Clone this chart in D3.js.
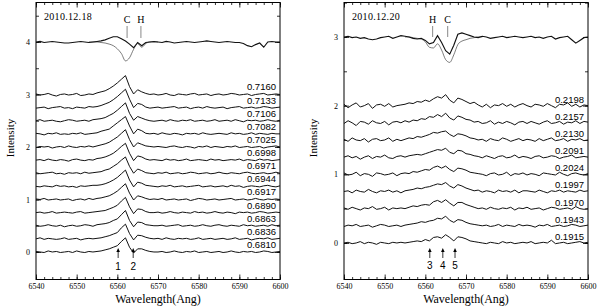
<!DOCTYPE html>
<html lang="en">
<head>
<meta charset="UTF-8">
<title>H-alpha profiles 2010.12.18 / 2010.12.20</title>
<script src="https://cdn.jsdelivr.net/npm/d3@7/dist/d3.min.js"></script>
<style>
  body { margin: 0; background: #fff; }
  svg { display: block; }
  svg text { fill: #000; }
</style>
</head>
<body>
<script>

// wavelength grid of the spectra (1 Ang steps)
const wave = d3.range(6540, 6601);

// ---------- left panel: 2010.12.18 ----------
const phasesL = ["0.7160", "0.7133", "0.7106", "0.7082", "0.7025", "0.6998", "0.6971",
                 "0.6944", "0.6917", "0.6890", "0.6863", "0.6836", "0.6810"];
const offsetsL = [3, 2.75, 2.5, 2.25, 2, 1.75, 1.5, 1.25, 1, 0.75, 0.5, 0.25, 0];

// flux - continuum, in units of 0.01
const specL = [
  [1,-1,0,2,-1,-3,0,1,-1,0,2,-2,-1,1,0, 3,5,7,11,16,22,29,36,15,1,9,5,2,0,1, -1,0,2,-1,-2,1,0,-1,1,2,-1,0,1,-2,0, 1,-1,0,2,1,-1,0,1,-2,0,1,2,-1,0,1,0],
  [-1,0,1,-2,0,1,2,-1,0,-2,1,0,-1,2,1, 2,4,7,10,15,21,28,35,16,0,8,6,1,-1,0, 1,-1,0,1,2,-1,0,1,-2,0,1,-1,2,0,-1, 0,1,-2,0,1,2,-1,0,1,-1,0,2,1,-1,0,1],
  [0,2,-1,0,1,-1,-2,0,2,1,-1,0,1,-1,2, 3,4,6,10,14,20,27,34,14,1,8,5,2,0,-1, 0,1,-1,2,0,-1,1,0,2,-1,0,1,-1,0,2, -1,0,1,-1,2,0,-2,1,0,1,-1,0,2,0,-1,1],
  [1,0,-2,1,0,2,-1,0,-1,1,0,2,-1,0,1, 2,5,7,9,15,21,27,33,15,0,9,6,1,0,1, -1,2,0,-1,1,0,-2,1,0,1,-1,2,0,-1,0, 1,0,-1,2,0,1,-1,0,2,-1,1,0,-1,1,0,0],
  [-1,1,0,1,-2,0,1,-1,2,0,-1,1,0,2,0, 2,4,6,9,14,19,26,33,14,0,8,5,2,1,0, 1,0,-1,1,2,0,-1,1,0,-2,1,0,2,-1,1, 0,-1,1,0,2,-1,0,1,-1,0,1,-2,0,1,2,0],
  [0,1,-1,2,0,-1,1,0,-2,1,2,0,-1,1,0, 3,4,6,9,13,19,26,32,13,-1,8,6,2,0,1, 0,-1,2,0,1,-1,0,2,-1,0,1,0,-1,2,0, 1,-1,0,1,0,2,-1,1,0,-1,2,0,1,-1,0,1],
  [1,-1,0,1,2,-1,0,-2,1,0,1,-1,2,0,1, 2,3,6,8,13,18,25,31,13,0,8,5,1,0,-1, 1,0,2,-1,0,1,-1,0,2,1,-1,0,1,-1,0, 2,0,-1,1,0,-1,1,2,0,-1,0,1,-1,0,2,0],
  [0,-1,1,0,-1,2,0,1,-1,0,-2,1,0,1,2, 2,3,5,8,12,17,24,31,12,-1,8,6,2,1,0, -1,1,0,2,-1,0,1,-1,0,1,2,-1,0,1,-1, 0,1,-1,2,0,1,-2,0,1,0,-1,1,2,0,-1,1],
  [1,0,2,-1,0,1,-1,0,1,-2,0,1,-1,2,0, 2,3,5,7,11,16,23,30,12,-1,7,5,2,0,1, 0,2,-1,0,1,-1,0,1,-2,0,2,1,-1,0,1, -1,0,1,2,-1,0,1,-1,0,2,0,-1,1,0,1,0],
  [0,1,-1,0,2,-1,0,1,0,-1,1,2,-1,0,1, 2,3,4,7,10,14,22,29,11,-2,7,6,2,0,0, 1,-1,0,2,0,-1,1,0,-1,2,0,1,-1,0,2, 0,-1,1,0,-2,1,0,1,-1,0,2,1,-1,0,1,0],
  [1,-1,0,2,0,-1,1,-2,0,1,-1,0,2,1,-1, 2,3,4,6,10,13,21,29,10,-2,7,6,2,1,0, 0,1,-1,0,1,2,-1,0,1,-1,0,2,0,-1,1, 2,0,-1,1,0,-1,2,0,1,-1,0,1,-1,2,0,1],
  [0,2,-1,1,0,-1,0,2,-1,0,1,-2,0,1,0, 1,2,4,6,9,12,21,28,10,-2,7,6,3,1,0, 1,-1,2,0,-1,1,0,1,-1,0,2,-1,0,1,-1, 0,1,-1,0,2,-1,0,1,-2,0,1,0,2,-1,0,1],
  [1,0,-1,2,0,1,-1,0,1,-1,2,0,-1,1,0, 1,2,4,6,9,12,20,27,9,-2,6,6,3,1,0, 0,1,-1,0,2,0,-1,1,0,2,-1,0,1,-1,0, 1,-1,0,2,0,-1,1,0,1,-1,0,2,1,-1,0,1]
];

// top spectrum of the night (offset 4): observed and thin comparison profile
const topL = [0,1,-1,0,1,0,-1,-2,-2,-1,0,1,0,-1,0, 1,2,4,7,10,10,6,2,-4,-11,-1,-7,-1,0,1, 0,-1,1,0,-2,-1,0,1,0,-1,0,1,2,1,0, -1,0,1,0,-1,-1,-3,-7,-9,-5,-2,-10,0,1,0,0];
const coreWaveL = [6553, 6554, 6555, 6556, 6557, 6558, 6559, 6560, 6561, 6562, 6563, 6564, 6565, 6566, 6567, 6568, 6569, 6570];
const thinL = [0, 0, 0, -1, -2, -4, -7, -13, -22, -36, -30, -14, -3, -10, -3, 0, 0, 0];
const markWaveL = [6562.4, 6565.8];
const markNameL = ["C", "H"];
const arrowWaveL = [6560.2, 6563.9];
const arrowNameL = ["1", "2"];

// ---------- right panel: 2010.12.20 ----------
const phasesR = ["0.2198", "0.2157", "0.2130", "0.2091", "0.2024", "0.1997", "0.1970", "0.1943", "0.1915"];
const offsetsR = [2, 1.75, 1.5, 1.25, 1, 0.75, 0.5, 0.25, 0];

const specR = [
  [2,-3,1,4,-2,0,3,-4,1,2,-1,3,-2,0,1, 2,4,3,6,5,8,6,10,13,11,16,8,4,11,9, 6,3,5,1,-2,2,-3,1,0,3,-1,2,-2,1,3, 0,-2,2,1,-1,3,0,-3,2,1,4,-1,2,-2,1,0],
  [-1,3,0,-4,2,1,-2,3,0,-1,2,-3,1,2,0, 3,1,4,3,6,5,9,8,12,9,14,7,4,10,8, 5,4,1,2,-1,0,3,-2,1,-1,2,0,-3,1,2, -1,2,0,-2,1,3,-1,0,2,-2,1,0,3,-1,2,1],
  [1,-2,3,0,-1,2,-3,1,2,-1,0,3,-2,1,-1, 1,3,2,5,4,6,8,11,10,12,13,8,5,9,8, 6,3,2,0,1,-2,2,0,-1,3,1,-2,0,2,-1, 1,0,-2,2,-1,1,3,-1,0,2,-2,1,0,2,-1,0],
  [0,2,-1,1,-3,0,2,-2,1,0,3,-1,-2,1,2, 0,2,3,4,3,5,7,9,11,10,13,7,5,10,9, 5,4,2,1,-1,2,0,-2,1,2,-1,0,3,-1,1, 0,-2,1,2,-1,0,2,1,-2,0,1,3,-1,0,1,0],
  [2,-1,0,3,-2,1,0,-3,2,1,-1,0,2,-2,1, 2,1,4,3,5,7,6,10,12,9,12,7,4,9,8, 6,3,2,1,0,-2,1,2,-1,0,3,-2,1,0,2, -1,1,0,-2,2,1,0,-1,3,0,-2,1,2,0,-1,1],
  [0,1,-2,2,0,-1,3,0,-2,1,0,2,-1,1,-2, 1,2,3,5,4,6,7,9,11,10,13,8,5,10,8, 5,3,1,2,-1,1,0,-2,2,0,1,-1,2,-2,1, 1,0,-1,2,0,-2,1,0,2,-1,1,0,-1,2,0,1],
  [1,-1,2,0,-2,1,0,3,-1,0,2,-2,1,0,1, 0,2,4,3,5,6,5,10,12,9,13,8,4,9,9, 6,4,2,0,1,-1,2,0,-1,1,0,2,-2,1,0, 2,-1,0,1,-2,0,2,1,-1,0,1,-1,3,0,-1,0],
  [-1,1,0,2,-1,0,1,-2,0,2,1,-1,0,1,-1, 1,2,3,4,6,5,7,8,11,10,14,8,5,9,8, 5,3,2,1,0,1,-1,0,2,-1,1,0,-1,2,0, 1,0,-2,1,0,2,-1,0,1,-1,0,2,1,-1,0,1],
  [0,1,-1,0,2,-1,1,0,-2,1,0,-1,1,0,1, 0,1,2,3,2,5,3,8,9,7,12,8,3,9,8, 6,3,2,1,0,-1,1,0,-1,2,0,1,-1,0,1, 0,2,-1,0,1,0,4,-1,0,1,-1,0,1,2,0,1]
];

const topR = [0,1,-1,0,-2,-1,-3,-4,-3,-1,0,1,-2,0,2, 1,0,-2,-3,-2,-5,-10,-8,2,-8,-20,-25,-12,4,6, 4,2,0,-1,1,0,-2,-1,0,1,-1,0,1,0,-1, 0,1,-1,0,-2,0,1,-3,-1,0,1,-4,-9,-5,-1,0];
const coreWaveR = [6555, 6556, 6557, 6558, 6559, 6560, 6561, 6562, 6563, 6564, 6565, 6566, 6567, 6568, 6569, 6570, 6571, 6572, 6573, 6574];
const thinR = [0, 0, -1, -2, -3, -7, -15, -16, -10, -19, -33, -37, -26, -11, -6, -4, -2, -1, 0, 0];
const markWaveR = [6561.8, 6565.5];
const markNameR = ["H", "C"];
const arrowWaveR = [6561.1, 6564.3, 6567.3];
const arrowNameR = ["3", "4", "5"];

const xTicks = [6540, 6550, 6560, 6570, 6580, 6590, 6600];

// ---------- drawing ----------
const width = 600, height = 308;
const serif = "'Liberation Serif', 'Times New Roman', serif";
const sans = "'Liberation Sans', Arial, sans-serif";

const svg = d3.select("body").append("svg")
    .attr("width", width)
    .attr("height", height);

function drawPanel(p) {
    const g = svg.append("g");
    const x = d3.scaleLinear().domain([6540, 6600]).range([p.left, p.right]);
    const y = d3.scaleLinear().domain(p.yDomain).range([p.bottom, p.top]);

    // axes: ticks inside the frame on all four sides
    const minorX = d3.range(6540, 6601, 2);
    const minorY = d3.range(0, Math.floor(p.yDomain[1]) + 0.6, 0.5);
    const axes = [
        [d3.axisBottom(x).tickValues(minorX).tickSize(-2.5).tickFormat(""), `translate(0,${p.bottom})`],
        [d3.axisTop(x).tickValues(minorX).tickSize(-2.5).tickFormat(""), `translate(0,${p.top})`],
        [d3.axisBottom(x).tickValues(xTicks).tickSize(-5).tickPadding(4).tickFormat(d3.format("d")), `translate(0,${p.bottom})`],
        [d3.axisTop(x).tickValues(xTicks).tickSize(-5).tickFormat(""), `translate(0,${p.top})`],
        [d3.axisLeft(y).tickValues(minorY).tickSize(-3).tickFormat(""), `translate(${p.left},0)`],
        [d3.axisRight(y).tickValues(minorY).tickSize(-3).tickFormat(""), `translate(${p.right},0)`],
        [d3.axisLeft(y).tickValues(p.yTicks).tickSize(-5).tickPadding(6).tickFormat(d3.format("d")), `translate(${p.left},0)`],
        [d3.axisRight(y).tickValues(p.yTicks).tickSize(-5).tickFormat(""), `translate(${p.right},0)`]
    ];
    axes.forEach(([axis, tr]) => {
        const a = g.append("g").attr("transform", tr).call(axis);
        a.select(".domain").remove();
        a.selectAll("line").attr("stroke", "#000").attr("stroke-width", 0.8);
        a.selectAll("text").style("font-family", serif).style("font-size", "8px").attr("fill", "#000");
    });

    g.append("rect")
        .attr("x", p.left).attr("y", p.top)
        .attr("width", p.right - p.left).attr("height", p.bottom - p.top)
        .attr("fill", "none").attr("stroke", "#000").attr("stroke-width", 1);

    const line = d3.line().x(d => x(d[0])).y(d => y(d[1]));
    const smooth = d3.line().x(d => x(d[0])).y(d => y(d[1])).curve(d3.curveMonotoneX);

    // phase-ordered spectra
    p.spectra.forEach((vals, i) => {
        const pts = wave.map((w, k) => [w, p.offsets[i] + vals[k] / 100]);
        g.append("path").attr("d", line(pts))
            .attr("fill", "none").attr("stroke", "#111").attr("stroke-width", 1);
        g.append("text")
            .attr("x", p.right - 4).attr("y", y(p.offsets[i]) - p.labelLift)
            .attr("text-anchor", "end")
            .style("font-family", sans).style("font-size", "9.5px")
            .text(p.phases[i]);
    });

    // nightly mean (thick) and comparison profile (thin)
    const base = p.topOffset;
    g.append("path")
        .attr("d", smooth(p.coreWave.map((w, k) => [w, base + p.thin[k] / 100])))
        .attr("fill", "none").attr("stroke", "#444").attr("stroke-width", 0.7);
    g.append("path")
        .attr("d", line(wave.map((w, k) => [w, base + p.top1[k] / 100])))
        .attr("fill", "none").attr("stroke", "#111").attr("stroke-width", 1.15);

    g.append("text")
        .attr("x", p.left + 8).attr("y", 20)
        .style("font-family", serif).style("font-size", "10px")
        .style("letter-spacing", "0.3px")
        .text(p.date);

    // C / H markers
    p.markWave.forEach((w, i) => {
        g.append("line")
            .attr("x1", x(w)).attr("x2", x(w))
            .attr("y1", p.markY[0]).attr("y2", p.markY[1])
            .attr("stroke", "#555").attr("stroke-width", 0.7);
        g.append("text")
            .attr("x", x(w)).attr("y", p.markY[0] - 3)
            .attr("text-anchor", "middle")
            .style("font-family", serif).style("font-size", "10px")
            .text(p.markName[i]);
    });

    // arrows under the bottom spectrum
    p.arrowWave.forEach((w, i) => {
        const ax = x(w);
        g.append("line")
            .attr("x1", ax).attr("x2", ax)
            .attr("y1", p.arrowY[0] + 3).attr("y2", p.arrowY[1])
            .attr("stroke", "#000").attr("stroke-width", 0.8);
        g.append("path")
            .attr("d", `M${ax},${p.arrowY[0]} L${ax - 1.8},${p.arrowY[0] + 4} L${ax + 1.8},${p.arrowY[0] + 4} Z`)
            .attr("fill", "#000");
        g.append("text")
            .attr("x", ax).attr("y", p.arrowY[2])
            .attr("text-anchor", "middle")
            .style("font-family", sans).style("font-size", "10px")
            .text(p.arrowName[i]);
    });

    // axis titles
    g.append("text")
        .attr("x", (p.left + p.right) / 2).attr("y", 303)
        .attr("text-anchor", "middle")
        .style("font-family", serif).style("font-size", "12px")
        .text("Wavelength(Ang)");
    g.append("text")
        .attr("transform", `translate(${p.titleX + 4},${138}) rotate(-90)`)
        .attr("text-anchor", "middle")
        .style("font-family", serif).style("font-size", "11px")
        .text("Intensity");
}

drawPanel({
    left: 36, right: 280, top: 2.5, bottom: 279.5, titleX: 10,
    yDomain: [-0.524, 4.752], yTicks: [0, 1, 2, 3, 4],
    spectra: specL, offsets: offsetsL, phases: phasesL, labelLift: 4,
    topOffset: 4, top1: topL, coreWave: coreWaveL, thin: thinL,
    date: "2010.12.18",
    markWave: markWaveL, markName: markNameL, markY: [26, 38],
    arrowWave: arrowWaveL, arrowName: arrowNameL, arrowY: [248, 258, 270]
});

drawPanel({
    left: 344, right: 588, top: 2.5, bottom: 279.5, titleX: 313,
    yDomain: [-0.532, 3.502], yTicks: [0, 1, 2, 3],
    spectra: specR, offsets: offsetsR, phases: phasesR, labelLift: 3,
    topOffset: 3, top1: topR, coreWave: coreWaveR, thin: thinR,
    date: "2010.12.20",
    markWave: markWaveR, markName: markNameR, markY: [26, 37],
    arrowWave: arrowWaveR, arrowName: arrowNameR, arrowY: [248, 258, 269]
});
</script>
</body>
</html>
